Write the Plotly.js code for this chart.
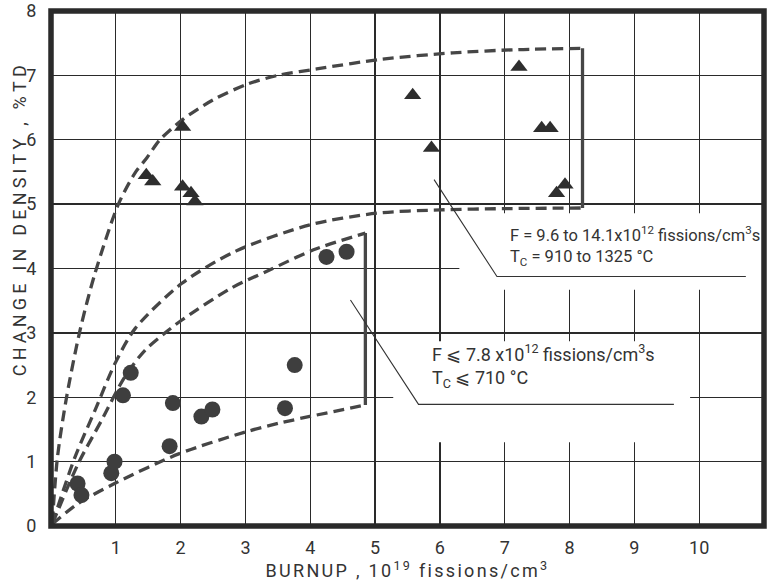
<!DOCTYPE html>
<html>
<head>
<meta charset="utf-8">
<script src="https://cdn.plot.ly/plotly-3.0.1.min.js"></script>
<style>
html, body { margin: 0; padding: 0; background: #fff; }
#chart { width: 767px; height: 585px; }
.g-xtitle text { letter-spacing: 2.3px; }
.annotation[data-index="2"] text { letter-spacing: 4.2px; }
</style>
</head>
<body>
<div id="chart"></div>
<script>
// ---- data ----
// High-temperature group (triangles)
var triBurnup = [1.47, 1.57, 2.03, 2.03, 2.16, 2.22, 5.58, 5.87, 7.22, 7.57, 7.70, 7.80, 7.93];
var triDensity = [5.45, 5.35, 6.20, 5.27, 5.17, 5.04, 6.69, 5.87, 7.13, 6.18, 6.18, 5.17, 5.30];
// Low-temperature group (circles)
var circBurnup = [0.41, 0.47, 0.93, 0.98, 1.11, 1.23, 1.83, 1.88, 2.32, 2.49, 3.61, 3.76, 4.25, 4.56];
var circDensity = [0.66, 0.48, 0.82, 1.00, 2.03, 2.38, 1.24, 1.91, 1.70, 1.81, 1.83, 2.50, 4.18, 4.26];
// Envelope of high-temperature group
var hiUpperX = [0.02, 0.10, 0.24, 0.45, 0.68, 1.04, 1.30, 1.48, 1.68, 2.04, 2.50, 3.02, 3.50, 4.10, 5.10, 6.20, 7.20, 8.20];
var hiUpperY = [0.05, 1.07, 2.00, 3.05, 3.93, 5.00, 5.49, 5.72, 6.00, 6.32, 6.62, 6.86, 7.00, 7.10, 7.25, 7.35, 7.40, 7.42];
var hiLowerX = [0.02, 0.37, 0.68, 0.99, 1.30, 2.02, 2.85, 4.00, 5.03, 6.00, 7.00, 8.20];
var hiLowerY = [0.04, 1.07, 1.80, 2.53, 3.07, 3.77, 4.27, 4.68, 4.86, 4.91, 4.93, 4.94];
var hiEdgeX = [8.20, 8.20];
var hiEdgeY = [7.42, 4.94];
// Envelope of low-temperature group
var loUpperX = [0.02, 0.42, 0.78, 1.14, 1.45, 1.81, 2.02, 2.77, 3.38, 4.05, 4.85];
var loUpperY = [0.03, 0.97, 1.64, 2.32, 2.73, 3.04, 3.20, 3.69, 3.98, 4.29, 4.55];
var loLowerX = [0.02, 0.42, 0.98, 1.97, 3.00, 3.53, 4.85];
var loLowerY = [0.03, 0.35, 0.66, 1.12, 1.46, 1.60, 1.88];
var loEdgeX = [4.85, 4.85];
var loEdgeY = [4.55, 1.88];
// Ticks
var xTicks = [1, 2, 3, 4, 5, 6, 7, 8, 9, 10];
var yTicks = [0, 1, 2, 3, 4, 5, 6, 7, 8];

var FONT = 'Roboto, Liberation Sans, sans-serif';
var INK = '#333333';
var LINE = '#464646';
var dashStyle = '11px,6px';

function dashed(x, y) {
  return { x: x, y: y, type: 'scatter', mode: 'lines', hoverinfo: 'skip', showlegend: false,
    line: { color: LINE, width: 3.3, dash: dashStyle, shape: 'spline', smoothing: 0.8 } };
}
function solid(x, y) {
  return { x: x, y: y, type: 'scatter', mode: 'lines', hoverinfo: 'skip', showlegend: false,
    line: { color: LINE, width: 3.3 } };
}

var traces = [
  dashed(hiUpperX, hiUpperY),
  dashed(hiLowerX, hiLowerY),
  solid(hiEdgeX, hiEdgeY),
  dashed(loUpperX, loUpperY),
  dashed(loLowerX, loLowerY),
  solid(loEdgeX, loEdgeY),
  { x: triBurnup, y: triDensity, type: 'scatter', mode: 'markers', name: 'T_C = 910 to 1325 °C', showlegend: false,
    marker: { symbol: 'triangle-up', size: 15, color: '#2e2e2e' } },
  { x: circBurnup, y: circDensity, type: 'scatter', mode: 'markers', name: 'T_C ≤ 710 °C', showlegend: false,
    marker: { symbol: 'circle', size: 16, color: '#3e3e3e' } }
];

var layout = {
  width: 767, height: 585,
  margin: { l: 51, r: 3, t: 11, b: 59 },
  paper_bgcolor: '#ffffff', plot_bgcolor: '#ffffff',
  font: { family: FONT, color: INK, size: 18 },
  showlegend: false,
  xaxis: {
    range: [0, 11], tickvals: xTicks, ticktext: xTicks.map(String),
    showgrid: true, gridcolor: '#2a2a2a', gridwidth: 1.3, zeroline: false, showline: false,
    ticks: 'outside', ticklen: 5, tickcolor: 'rgba(0,0,0,0)',
    tickfont: { family: FONT, size: 18, color: INK },
    title: { text: 'BURNUP , 10<sup>19</sup> fissions/cm<sup>3</sup>', font: { family: FONT, size: 18, color: INK }, standoff: 0 }
  },
  yaxis: {
    range: [0, 8], tickvals: yTicks, ticktext: yTicks.map(String),
    showgrid: true, gridcolor: '#2a2a2a', gridwidth: 1.3, zeroline: false, showline: false,
    ticks: 'outside', ticklen: 10, tickcolor: 'rgba(0,0,0,0)',
    tickfont: { family: FONT, size: 18, color: INK }
  },
  shapes: [
    // white patches behind the two labels (cover the grid only)
    { type: 'rect', xref: 'x', yref: 'y', x0: 6.3, x1: 11, y0: 3.67, y1: 4.86, layer: 'between',
      fillcolor: '#ffffff', line: { width: 0 } },
    { type: 'rect', xref: 'x', yref: 'y', x0: 5.28, x1: 9.86, y0: 1.30, y1: 2.87, layer: 'between',
      fillcolor: '#ffffff', line: { width: 0 } },
    // leader lines
    { type: 'path', xref: 'x', yref: 'y', path: 'M 5.91 5.38 L 6.88 3.875 L 10.72 3.875',
      line: { color: INK, width: 1.1 }, layer: 'above' },
    { type: 'path', xref: 'x', yref: 'y', path: 'M 4.62 3.51 L 5.67 1.89 L 9.61 1.89',
      line: { color: INK, width: 1.1 }, layer: 'above' },
    // heavy frame
    { type: 'rect', xref: 'paper', yref: 'paper', x0: 0, x1: 1, y0: 0, y1: 1,
      line: { color: '#2a2a2a', width: 5.5 }, layer: 'above' }
  ],
  annotations: [
    { xref: 'x', yref: 'y', x: 7.05, y: 4.35, xanchor: 'left', yanchor: 'middle', align: 'left', showarrow: false,
      text: 'F = 9.6 to 14.1x10<sup>12</sup> fissions/cm<sup>3</sup>s<br>T<sub>C</sub> = 910 to 1325 °C',
      font: { family: FONT, size: 16.5, color: INK } },
    { xref: 'x', yref: 'y', x: 5.84, y: 2.48, xanchor: 'left', yanchor: 'middle', align: 'left', showarrow: false,
      text: 'F ⩽ 7.8 x10<sup>12</sup> fissions/cm<sup>3</sup>s<br>T<sub>C</sub> ⩽ 710 °C',
      font: { family: FONT, size: 18, color: INK } },
    // y-axis title, placed where the reference has it
    { xref: 'paper', yref: 'paper', x: -0.045, y: 0.598, xanchor: 'center', yanchor: 'middle',
      textangle: -90, showarrow: false,
      text: 'CHANGE IN DENSITY , %TD',
      font: { family: FONT, size: 18, color: INK } }
  ]
};

Plotly.newPlot('chart', traces, layout, { displayModeBar: false, staticPlot: true });
</script>
</body>
</html>
